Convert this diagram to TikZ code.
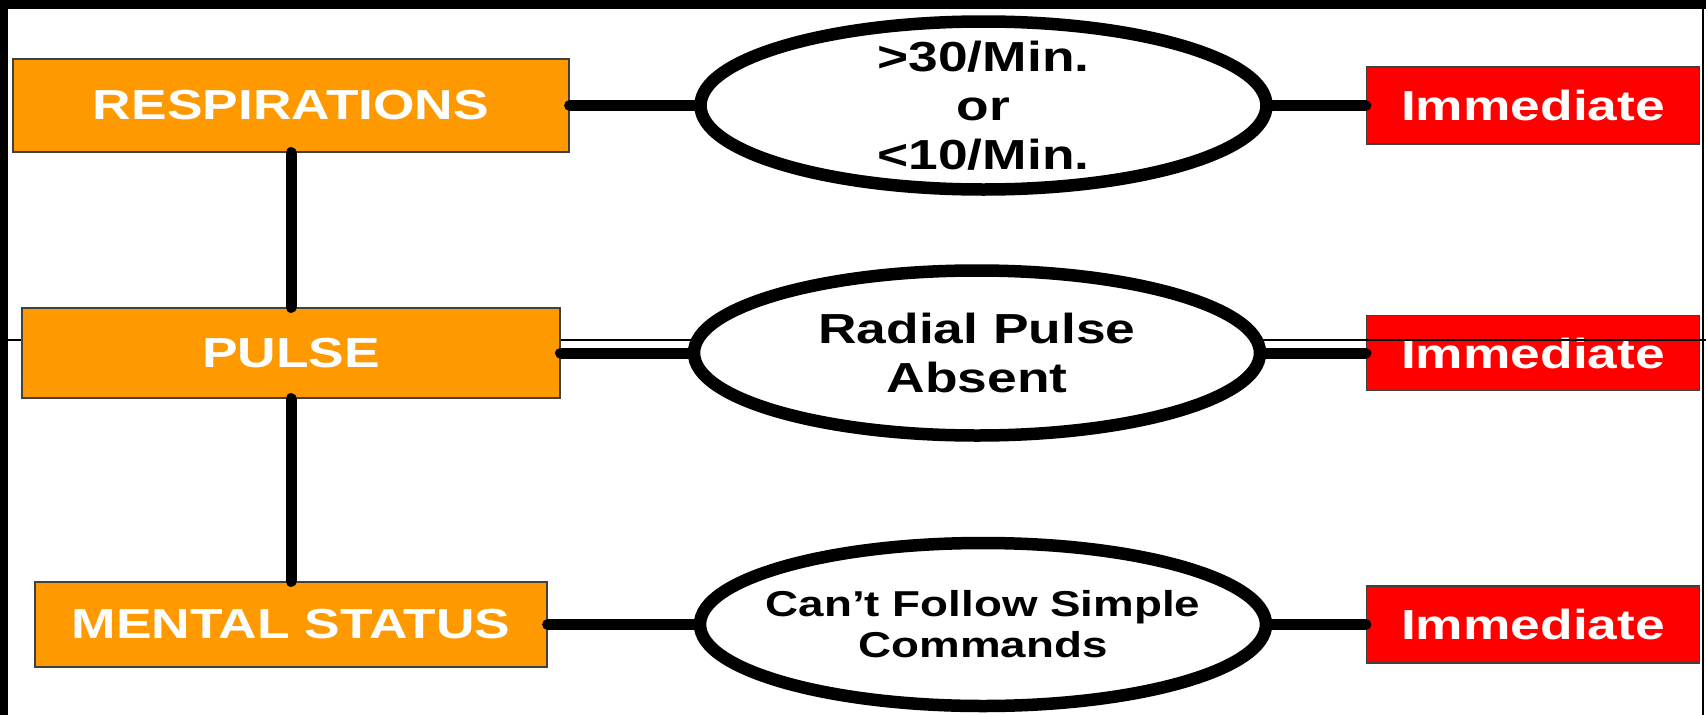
\documentclass[tikz,border=0pt]{standalone}
\usepackage{fontspec}
\usetikzlibrary{shapes.geometric}
\newfontfamily\chartfont[FakeStretch=1.27]{Liberation Sans}
\definecolor{checkorange}{HTML}{FF9900}
\definecolor{tagred}{HTML}{FF0000}

\begin{document}
\begin{tikzpicture}[
            x = 1pt, y = -1pt, % one unit per pixel, y grows downward
            line cap = round, % round ends on the connectors
            semithick % line style
        ]

        \tikzstyle{check}=[
            draw = black!75,
            line width = 1.2pt,
            fill = checkorange,
            text = white,
            font = \chartfont\bfseries\fontsize{42}{49}\selectfont
        ]
        \tikzstyle{oval}=[
            ellipse,
            draw = black,
            line width = 12.5pt,
            fill = white,
            align = center,
            inner sep = -20pt, % keep the oval from growing with the text
            minimum width = 566pt,
            minimum height = 165pt,
            font = \chartfont\bfseries\fontsize{42}{49}\selectfont
        ]
        \tikzstyle{tag}=[
            draw = black!75,
            line width = 1.2pt,
            fill = tagred,
            text = white,
            minimum width = 333pt,
            minimum height = 77pt,
            font = \chartfont\bfseries\fontsize{42}{49}\selectfont
        ]
        \tikzstyle{link}=[line width = 11pt]
        \tikzstyle{hairline}=[line width = 1.5pt]

        \useasboundingbox (0,0) rectangle (1706,715);

        % frame
        \fill (0,0) rectangle (1706,9);
        \fill (0,0) rectangle (8,715);
        \draw[hairline] (1703,0) -- (1703,715);
        \draw[hairline] (8,340) -- (1706,340);

        \node[check, minimum width = 556pt, minimum height = 93pt] (c0) at (291,105.5) {RESPIRATIONS};
        \node[check, minimum width = 538pt, minimum height = 90pt] (c1) at (291,353) {PULSE};
        \node[check, minimum width = 512pt, minimum height = 85pt] (c2) at (291,624.5) {MENTAL STATUS};

        \node[oval, minimum height = 168pt] (o0) [node distance = 692.5pt, right of=c0] {>30/Min.\\or\\<10/Min.};
        \node[oval] (o1) [node distance = 686pt, right of=c1] {Radial Pulse\\Absent};
        \node[oval, minimum height = 163pt, font = \chartfont\bfseries\fontsize{36}{41}\selectfont] (o2) [node distance = 692pt, right of=c2] {Can’t Follow Simple\\Commands};

        \node[tag] (t0) [node distance = 549.5pt, right of=o0] {Immediate};
        \node[tag, minimum height = 75pt] (t1) [node distance = 556pt, right of=o1] {Immediate};
        \node[tag] (t2) [node distance = 550pt, right of=o2] {Immediate};

        \draw[hairline] (1366,340) -- (1706,340);

        \draw[link] (c0) -- (c1);
        \draw[link] (c1) -- (c2);
        \draw[link] (c0) -- (o0);
        \draw[link] (c1) -- (o1);
        \draw[link] (c2) -- (o2);
        \draw[link] (o0) -- (t0);
        \draw[link] (o1) -- (t1);
        \draw[link] (o2) -- (t2);

    \end{tikzpicture}
\end{document}
